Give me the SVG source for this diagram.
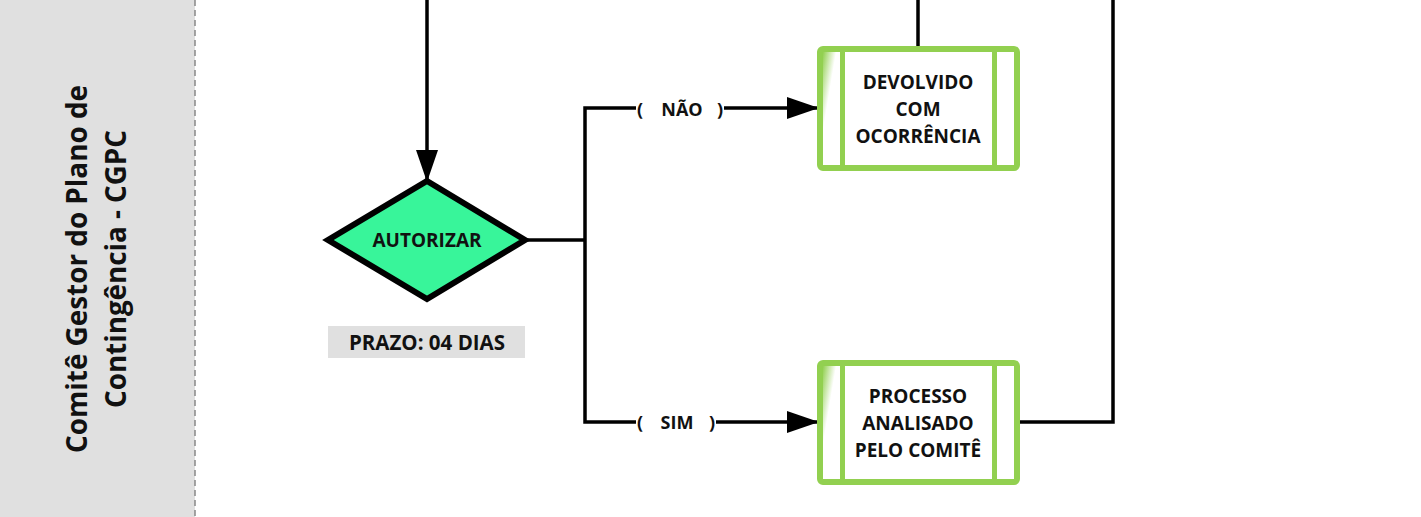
<svg xmlns="http://www.w3.org/2000/svg" width="1421" height="517" viewBox="0 0 1421 517">
<defs>
<style>
.t{font-family:"Open Sans","Noto Sans","Liberation Sans",sans-serif;font-weight:bold;fill:#111;text-anchor:middle}
.c{fill:none;stroke:#000;stroke-width:3.5}
.box{fill:#fff;stroke:#92d050;stroke-width:6}
.bar{stroke:#92d050;stroke-width:5}
</style>
<marker id="ah" markerWidth="32" markerHeight="22" refX="31" refY="11" orient="auto" markerUnits="userSpaceOnUse">
<path d="M0,0 L32,11 L0,22 Z" fill="#000"/>
</marker>
<linearGradient id="g" x1="0" y1="0" x2="1" y2="1">
<stop offset="0" stop-color="#92d050"/>
<stop offset="0.35" stop-color="#fff"/>
<stop offset="1" stop-color="#fff"/>
</linearGradient>
</defs>
<rect x="0" y="0" width="195" height="517" fill="#e0e0e0"/>
<line x1="195" y1="0" x2="195" y2="517" stroke="#888" stroke-width="1.5" stroke-dasharray="6,4"/>
<g id="lane-label">
<text class="t" font-size="28" transform="translate(87,269) rotate(-90)" textLength="368" lengthAdjust="spacingAndGlyphs">Comitê Gestor do Plano de</text>
<text class="t" font-size="28" transform="translate(126,269) rotate(-90)" textLength="278" lengthAdjust="spacingAndGlyphs">Contingência - CGPC</text>
</g>
<g id="connectors">
<line class="c" x1="427" y1="0" x2="427" y2="181" marker-end="url(#ah)"/>
<line class="c" x1="918" y1="0" x2="918" y2="47"/>
<polyline class="c" points="525,240 585,240"/>
<polyline class="c" points="636,108 585,108 585,422 636,422"/>
<line class="c" x1="724" y1="108" x2="818" y2="108" marker-end="url(#ah)"/>
<line class="c" x1="716" y1="422" x2="818" y2="422" marker-end="url(#ah)"/>
<polyline class="c" points="1019,422 1113,422 1113,0"/>
<text class="t" font-size="18" x="640" y="116">(</text>
<text class="t" font-size="18" x="682" y="116">NÃO</text>
<text class="t" font-size="18" x="720" y="116">)</text>
<text class="t" font-size="18" x="640" y="429">(</text>
<text class="t" font-size="18" x="677" y="429">SIM</text>
<text class="t" font-size="18" x="712" y="429">)</text>
</g>
<g id="autorizar">
<polygon points="427,181 525,240 427,299 328,240" fill="#38f59a" stroke="#000" stroke-width="6" stroke-linejoin="miter"/>
<text class="t" font-size="19" x="427" y="247">AUTORIZAR</text>
</g>
<g id="prazo">
<rect x="328" y="326" width="197" height="32" fill="#e0e0e0"/>
<text class="t" font-size="20.5" x="427" y="350">PRAZO: 04 DIAS</text>
</g>
<g id="devolvido">
<rect class="box" x="820" y="49" width="197" height="119" rx="3"/>
<rect x="823" y="52" width="19" height="113" fill="url(#g)"/>
<line class="bar" x1="842.5" y1="49" x2="842.5" y2="168"/>
<line class="bar" x1="994.5" y1="49" x2="994.5" y2="168"/>
<text class="t" font-size="19" x="918" y="89">DEVOLVIDO</text>
<text class="t" font-size="19" x="918" y="116">COM</text>
<text class="t" font-size="19" x="918" y="143">OCORRÊNCIA</text>
</g>
<g id="processo">
<rect class="box" x="820" y="363" width="197" height="119" rx="3"/>
<rect x="823" y="366" width="19" height="113" fill="url(#g)"/>
<line class="bar" x1="842.5" y1="363" x2="842.5" y2="482"/>
<line class="bar" x1="994.5" y1="363" x2="994.5" y2="482"/>
<text class="t" font-size="19" x="918" y="403">PROCESSO</text>
<text class="t" font-size="19" x="918" y="430">ANALISADO</text>
<text class="t" font-size="19" x="918" y="457">PELO COMITÊ</text>
</g>
</svg>
